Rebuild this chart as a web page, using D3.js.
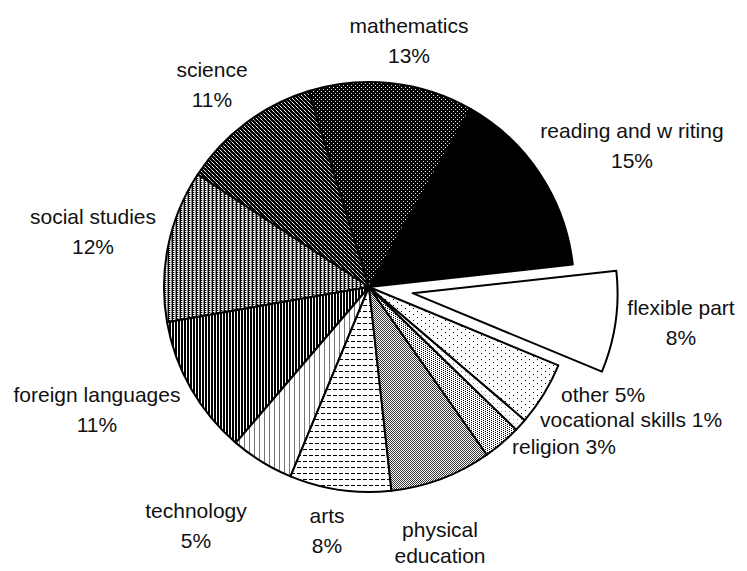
<!DOCTYPE html>
<html><head><meta charset="utf-8">
<script src="https://cdn.jsdelivr.net/npm/d3@7"></script>
<style>
body{margin:0;background:#fff}
text{font-family:"Liberation Sans",Arial,sans-serif;font-size:21px;fill:#111}
</style>
</head><body><svg id="c" width="747" height="571"></svg>
<script>
// ---- data ----
const categories = ["reading and writing","mathematics","science","social studies","foreign languages","technology","arts","physical education","religion","vocational skills","other","flexible part"];
const shares = [15,13,11,12,11,5,8,8,3,1,5,8];
const labelLines = [["reading and w riting","15%"],["mathematics","13%"],["science","11%"],["social studies","12%"],["foreign languages","11%"],["technology","5%"],["arts","8%"],["physical","education","8%"],["religion 3%"],["vocational skills 1%"],["other 5%"],["flexible part","8%"]];
const explodedCategory = "flexible part";

// ---- layout ----
const W = 747, H = 571;
const cx = 369, cy = 287, R = 205, explodeOffset = 44;
const startDeg = 83.7;
const lineH = 29.5;
const labelLayout = [
  [632,138,"middle",lineH],[409,33,"middle",lineH],[212,77,"middle",lineH],[93,224,"middle",lineH],
  [97,402,"middle",lineH],[196,518,"middle",lineH],[327,523,"middle",lineH],[440,537,"middle",26],
  [512,454,"start",lineH],[540,427,"start",lineH],[561,402,"start",lineH],[681,315,"middle",lineH]
];

const svg = d3.select("#c");
const defs = svg.append("defs");

function pat(id, w, h, bg, rects){
  const p = defs.append("pattern").attr("id", id).attr("patternUnits","userSpaceOnUse")
    .attr("width", w).attr("height", h);
  p.append("rect").attr("width", w).attr("height", h).attr("fill", bg).attr("shape-rendering","crispEdges");
  rects.forEach(r => p.append("rect").attr("x", r[0]).attr("y", r[1]).attr("width", r[2]).attr("height", r[3])
    .attr("fill", r[4]).attr("shape-rendering","crispEdges"));
  return "url(#" + id + ")";
}
const fills = [
  "#000",
  pat("p1", 4, 4, "#000", [[0,0,1,1,"#fff"],[2,2,1,1,"#ddd"]]),
  pat("p2", 4, 4, "#000", [[0,0,1,1,"#fff"],[1,1,1,1,"#999"],[2,2,1,1,"#999"],[3,3,1,1,"#fff"]]),
  pat("p3", 4, 2, "#000", [[0,0,2,1,"#fff"],[2,0,1,2,"#888"],[1,1,1,1,"#aaa"]]),
  pat("p4", 3, 3, "#000", [[0,0,1,3,"#fff"]]),
  pat("p5", 5, 5, "#fff", [[0,0,1,5,"#777"]]),
  pat("p6", 6, 6, "#fff", [[0,0,4,1,"#000"]]),
  pat("p7", 2, 2, "#fff", [[0,0,1,1,"#333"],[1,1,1,1,"#333"]]),
  pat("p8", 4, 2, "#fff", [[0,0,1,1,"#000"],[2,1,1,1,"#000"]]),
  pat("p9", 4, 4, "#fff", [[0,0,1,1,"#999"]]),
  pat("p10", 8, 6, "#fff", [[0,0,1,1,"#000"],[4,3,1,1,"#000"]]),
  "#fff"
];

const a0 = startDeg * Math.PI / 180;
const pie = d3.pie().sort(null).value(d => d).startAngle(a0).endAngle(a0 - 2*Math.PI);
const arcs = pie(shares);
const arc = d3.arc().innerRadius(0).outerRadius(R);

const g = svg.append("g").attr("transform", `translate(${cx},${cy})`);
g.selectAll("path").data(arcs).join("path")
  .attr("d", arc)
  .attr("fill", (d,i) => fills[i])
  .attr("stroke", "#000").attr("stroke-width", 2).attr("stroke-linejoin","round")
  .attr("transform", (d,i) => {
    if (categories[i] !== explodedCategory) return null;
    const m = (d.startAngle + d.endAngle)/2;
    return `translate(${explodeOffset*Math.sin(m)},${-explodeOffset*Math.cos(m)})`;
  });

labelLines.forEach((lines, i) => {
  const [x, y, anchor, lh] = labelLayout[i];
  const t = svg.append("text").attr("text-anchor", anchor);
  lines.forEach((ln, k) => t.append("tspan").attr("x", x).attr("y", y + k*lh).text(ln));
});
</script>
</body></html>
